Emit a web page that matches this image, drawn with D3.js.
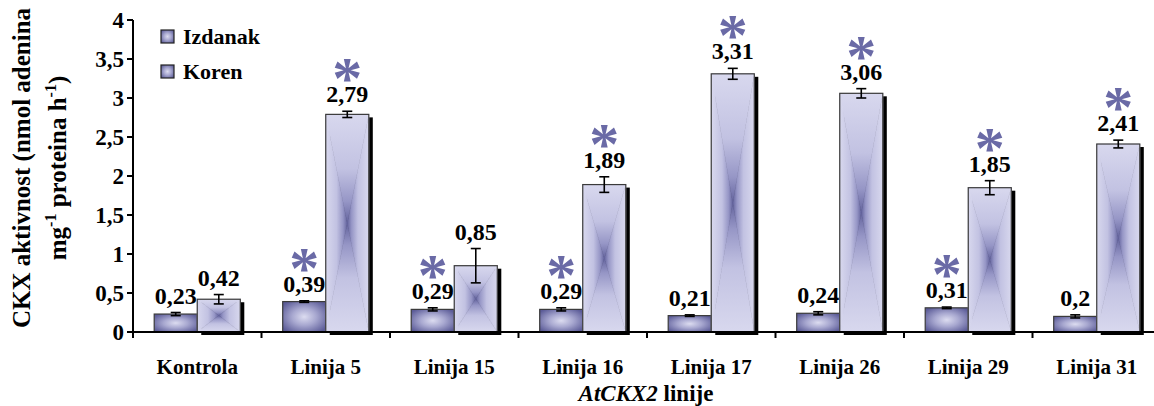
<!DOCTYPE html>
<html>
<head>
<meta charset="utf-8">
<script src="https://cdn.jsdelivr.net/npm/d3@7/dist/d3.min.js"></script>
<style>
  html, body { margin: 0; padding: 0; background: #fff; }
  svg { display: block; }
  text { font-family: "Liberation Serif", "Times New Roman", serif; font-weight: bold; }
</style>
</head>
<body>
<svg id="chart" width="1154" height="406"></svg>
<script>
// ---- data ----
const categories = ["Kontrola", "Linija 5", "Linija 15", "Linija 16", "Linija 17", "Linija 26", "Linija 29", "Linija 31"];
const seriesNames = ["Izdanak", "Koren"];
const izdanak = [0.23, 0.39, 0.29, 0.29, 0.21, 0.24, 0.31, 0.20];
const koren   = [0.42, 2.79, 0.85, 1.89, 3.31, 3.06, 1.85, 2.41];
const izdanakErr = [0.02, 0.01, 0.02, 0.02, 0.01, 0.02, 0.01, 0.02];
const korenErr   = [0.06, 0.04, 0.22, 0.10, 0.07, 0.06, 0.09, 0.05];
const izdanakSig = [false, true, true, true, false, false, true, false];
const korenSig   = [false, true, false, true, true, true, true, true];
const labelsIzdanak = ["0,23", "0,39", "0,29", "0,29", "0,21", "0,24", "0,31", "0,2"];
const labelsKoren   = ["0,42", "2,79", "0,85", "1,89", "3,31", "3,06", "1,85", "2,41"];
const yTicks = [0, 0.5, 1, 1.5, 2, 2.5, 3, 3.5, 4];
const yTickLabels = ["0", "0,5", "1", "1,5", "2", "2,5", "3", "3,5", "4"];

// ---- layout ----
const svg = d3.select("#chart");
const x0 = 133, step = 128.5;
const x = d3.scaleBand().domain(categories).range([x0, x0 + step * categories.length])
  .paddingInner(0.33).paddingOuter(0.165);
const xs = d3.scaleBand().domain(seriesNames).range([0, x.bandwidth()]);
const y = d3.scaleLinear().domain([0, 4]).range([332, 20]);

// ---- gradients ----
const defs = svg.append("defs");
// Izdanak: light centre glow, dark edges
const rg = defs.append("radialGradient").attr("id", "g-Izdanak")
  .attr("cx", 0.5).attr("cy", 0.5).attr("r", 0.62);
rg.append("stop").attr("offset", 0).attr("stop-color", "#dcdcf0");
rg.append("stop").attr("offset", 0.45).attr("stop-color", "#a8a8d0");
rg.append("stop").attr("offset", 1).attr("stop-color", "#5c5c98");

// Koren: rectangular path gradient (light edges, dark centre) built from 4 triangles
const dirs = {
  L: { x1: 0, y1: 0, x2: 1, y2: 0 },
  R: { x1: 1, y1: 0, x2: 0, y2: 0 },
  T: { x1: 0, y1: 0, x2: 0, y2: 1 },
  B: { x1: 0, y1: 1, x2: 0, y2: 0 }
};
Object.entries(dirs).forEach(([k, d]) => {
  const g = defs.append("linearGradient").attr("id", `g-Koren-${k}`)
    .attr("x1", d.x1).attr("y1", d.y1).attr("x2", d.x2).attr("y2", d.y2);
  g.append("stop").attr("offset", 0).attr("stop-color", "#d8d8ee");
  g.append("stop").attr("offset", 0.5).attr("stop-color", "#c2c2e2");
  g.append("stop").attr("offset", 0.8).attr("stop-color", "#9696c6");
  g.append("stop").attr("offset", 1).attr("stop-color", "#64649e");
});

function drawBar(g, s, bx, by, bw, bh) {
  if (s === "Izdanak") {
    g.append("rect").attr("x", bx).attr("y", by).attr("width", bw).attr("height", bh)
      .attr("fill", "url(#g-Izdanak)");
  } else {
    const cx = bx + bw / 2, cy = by + bh / 2;
    const tris = {
      L: [[bx, by], [bx, by + bh], [cx, cy]],
      R: [[bx + bw, by], [bx + bw, by + bh], [cx, cy]],
      T: [[bx, by], [bx + bw, by], [cx, cy]],
      B: [[bx, by + bh], [bx + bw, by + bh], [cx, cy]]
    };
    Object.entries(tris).forEach(([k, pts]) => {
      g.append("path")
        .attr("d", "M" + pts.map(p => p.join(",")).join("L") + "Z")
        .attr("fill", `url(#g-Koren-${k})`)
        .attr("stroke", `url(#g-Koren-${k})`).attr("stroke-width", 0.6);
    });
  }
  g.append("rect").attr("x", bx).attr("y", by).attr("width", bw).attr("height", bh)
    .attr("fill", "none").attr("stroke", "#3a3a3a").attr("stroke-width", 1.2);
}

// ---- bars ----
const data = categories.map((c, i) => ({
  cat: c,
  vals: [
    { s: "Izdanak", v: izdanak[i], e: izdanakErr[i], sig: izdanakSig[i], lab: labelsIzdanak[i] },
    { s: "Koren", v: koren[i], e: korenErr[i], sig: korenSig[i], lab: labelsKoren[i] }
  ]
}));

const barsG = svg.append("g");
data.forEach(d => {
  d.vals.forEach(v => {
    const bx = x(d.cat) + xs(v.s), bw = xs.bandwidth();
    const by = y(v.v), bh = y(0) - y(v.v);
    if (v.s === "Koren") {
      barsG.append("rect").attr("x", bx + 4).attr("y", by + 3)
        .attr("width", bw).attr("height", bh).attr("fill", "#000");
    }
    drawBar(barsG, v.s, bx, by, bw, bh);
  });
});

// ---- error bars, labels, asterisks ----
const annG = svg.append("g");
data.forEach(d => {
  d.vals.forEach(v => {
    const cx = x(d.cat) + xs(v.s) + xs.bandwidth() / 2;
    const yt = y(v.v + v.e), yb = y(v.v - v.e);
    annG.append("line").attr("x1", cx).attr("x2", cx).attr("y1", yt).attr("y2", yb)
      .attr("stroke", "#000").attr("stroke-width", 1.6);
    [yt, yb].forEach(yy => annG.append("line").attr("x1", cx - 5).attr("x2", cx + 5)
      .attr("y1", yy).attr("y2", yy).attr("stroke", "#000").attr("stroke-width", 1.6));
    const lb = yt - 9;
    annG.append("text").attr("x", cx).attr("y", lb).attr("text-anchor", "middle")
      .attr("font-size", 24).attr("fill", "#000").text(v.lab);
    if (v.sig) {
      annG.append("text").attr("x", cx).attr("y", lb - 4).attr("text-anchor", "middle")
        .attr("font-size", 60).attr("fill", "#6a6aa6").text("*");
    }
  });
});

// ---- axes ----
const axG = svg.append("g");
axG.append("line").attr("x1", x0).attr("x2", x0).attr("y1", y(4)).attr("y2", y(0) + 6)
  .attr("stroke", "#000").attr("stroke-width", 2);
yTicks.forEach((t, i) => {
  axG.append("line").attr("x1", x0 - 6).attr("x2", x0).attr("y1", y(t)).attr("y2", y(t))
    .attr("stroke", "#000").attr("stroke-width", 2);
  axG.append("text").attr("x", x0 - 9).attr("y", y(t) + 8).attr("text-anchor", "end")
    .attr("font-size", 23).text(yTickLabels[i]);
});
axG.append("line").attr("x1", x0).attr("x2", 1154).attr("y1", y(0)).attr("y2", y(0))
  .attr("stroke", "#000").attr("stroke-width", 2);
categories.forEach((c, i) => {
  const bx = x(c) - x.step() * x.paddingInner() / 2;
  axG.append("line").attr("x1", bx).attr("x2", bx).attr("y1", y(0)).attr("y2", y(0) + 6)
    .attr("stroke", "#000").attr("stroke-width", 2);
  axG.append("text").attr("x", x(c) + x.bandwidth() / 2).attr("y", 374)
    .attr("text-anchor", "middle").attr("font-size", 21).text(c);
});

// x axis title
const xt = axG.append("text").attr("x", 646).attr("y", 401).attr("text-anchor", "middle")
  .attr("font-size", 23);
xt.append("tspan").attr("font-style", "italic").text("AtCKX2");
xt.append("tspan").text(" linije");

// y axis title
axG.append("text").attr("transform", "translate(30,168) rotate(-90)")
  .attr("text-anchor", "middle").attr("font-size", 25).text("CKX aktivnost (nmol adenina");
const yt2 = axG.append("text").attr("transform", "translate(66,168) rotate(-90)")
  .attr("text-anchor", "middle").attr("font-size", 25);
yt2.append("tspan").text("mg");
yt2.append("tspan").attr("font-size", 16).attr("dy", -10).text("-1");
yt2.append("tspan").attr("dy", 10).text(" proteina h");
yt2.append("tspan").attr("font-size", 16).attr("dy", -10).text("-1");
yt2.append("tspan").attr("dy", 10).text(")");

// ---- legend ----
const lg = svg.append("g");
seriesNames.forEach((s, i) => {
  const ly = 30 + i * 35;
  lg.append("rect").attr("x", 161).attr("y", ly).attr("width", 13).attr("height", 13)
    .attr("fill", "url(#g-Izdanak)").attr("stroke", "#222").attr("stroke-width", 1.2);
  lg.append("text").attr("x", 183).attr("y", ly + 14).attr("font-size", 22).text(s);
});
</script>
</body>
</html>
